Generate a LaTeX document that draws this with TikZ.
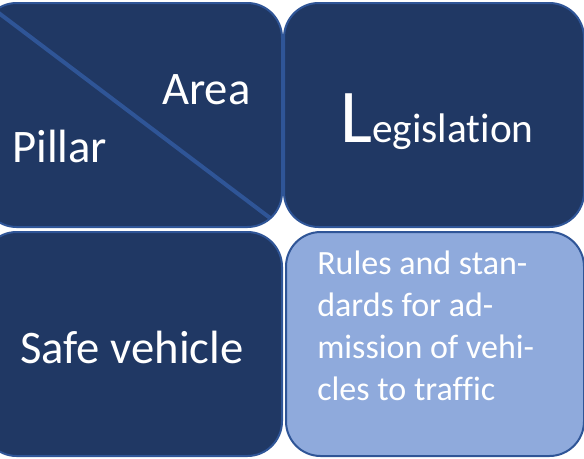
\documentclass[tikz,border=0pt]{standalone}
\usepackage{fontspec}
\setmainfont{Carlito}[Ligatures=NoCommon]
\usetikzlibrary{positioning}
\definecolor{navy}{HTML}{203864}
\definecolor{rim}{HTML}{2F5597}
\definecolor{pale}{HTML}{8FAADC}

\begin{document}
\begin{tikzpicture}[x=0.75pt,y=-0.75pt,
    cell/.style={rectangle,draw=rim,line width=1.5pt,rounded corners=26pt,inner sep=0pt,outer sep=0pt,minimum width=225pt,minimum height=168pt},
    words/.style={text=white,inner sep=0pt,anchor=base west}]
      \useasboundingbox (0,0) rectangle (584,458);
      \node[cell,fill=navy,anchor=north west,path picture={\draw[rim,line width=3pt] ([yshift=2pt]path picture bounding box.north west) -- (path picture bounding box.south east);}] (pillar) at (-18,3) {};
      \node[cell,fill=navy,right=1.5pt of pillar] (law) {};
      \node[cell,fill=navy,below=3.75pt of pillar] (vehicle) {};
      \node[cell,fill=pale,minimum width=223.5pt,right=3pt of vehicle] (rules) {};
      \node[words,font=\fontsize{35}{42}\selectfont] (area) at (162,104) {Area};
      \node[words,font=\fontsize{35}{42}\selectfont] (pillarname) at (12,162) {Pillar};
      \node[words] (lawname) at (340,142) {{\fontsize{57}{60}\selectfont L}{\fontsize{31}{36}\selectfont egislation}};
      \node[words,font=\fontsize{35}{42}\selectfont] (vehiclename) at (20,363) {Safe vehicle};
      \node[words,text width=215pt,align=flush left,font=\fontsize{25.5}{31.5}\selectfont] (rulestext) at (317,274) {Rules and stan-\\dards for ad-\\mission of vehi-\\cles to traffic};
\end{tikzpicture}
\end{document}
